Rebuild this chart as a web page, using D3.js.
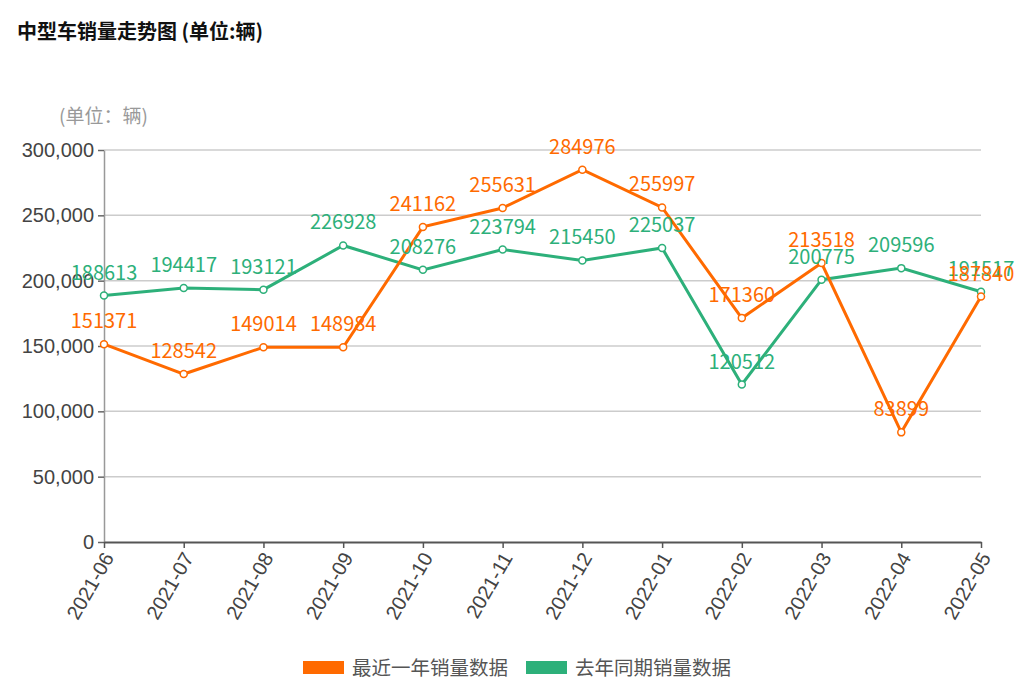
<!DOCTYPE html>
<html>
<head>
<meta charset="utf-8">
<script src="https://cdn.jsdelivr.net/npm/d3@7"></script>
<style>
  body { margin: 0; background: #fff; }
  svg { font-family: "Microsoft YaHei", "Noto Sans CJK SC", sans-serif; }
</style>
</head>
<body>
<div id="chart"></div>
<script>
var months = ["2021-06","2021-07","2021-08","2021-09","2021-10","2021-11","2021-12","2022-01","2022-02","2022-03","2022-04","2022-05"];
var recent = [151371,128542,149014,148984,241162,255631,284976,255997,171360,213518,83899,187840];
var lastYear = [188613,194417,193121,226928,208276,223794,215450,225037,120512,200775,209596,191517];
var yTicks = [0,50000,100000,150000,200000,250000,300000];
var seriesNames = ["最近一年销量数据","去年同期销量数据"];
var colors = ["#ff6a00","#2db07a"];

var width = 1028, height = 690;
var margin = {left: 104, right: 47, top: 150, bottom: 148};

var svg = d3.select("#chart").append("svg")
  .attr("width", width)
  .attr("height", height);

// title
svg.append("text")
  .attr("x", 17).attr("y", 39)
  .attr("font-size", 20).attr("font-weight", "bold").attr("fill", "#111")
  .text("中型车销量走势图 (单位:辆)");

var x = d3.scalePoint()
  .domain(months)
  .range([margin.left, width - margin.right]);

var y = d3.scaleLinear()
  .domain([0, 300000])
  .range([height - margin.bottom, margin.top]);

// grid
svg.append("g").selectAll("line")
  .data(yTicks.slice(1))
  .enter().append("line")
  .attr("x1", margin.left).attr("x2", width - margin.right)
  .attr("y1", function(d){ return y(d); }).attr("y2", function(d){ return y(d); })
  .attr("stroke", "#ccc").attr("stroke-width", 1.5);

// y axis
var yAxis = svg.append("g")
  .attr("transform", "translate(" + margin.left + ",0)")
  .call(d3.axisLeft(y).tickValues(yTicks).tickFormat(d3.format(",")).tickSize(6).tickSizeOuter(0));
yAxis.select(".domain").attr("stroke", "#999").attr("stroke-width", 1.5);
yAxis.selectAll(".tick line").attr("stroke", "#666").attr("stroke-width", 1.5);
yAxis.selectAll("text").attr("font-size", 20).attr("fill", "#444").attr("font-family", "inherit").attr("x", -10);

// unit label
svg.append("text")
  .attr("x", 59).attr("y", 123)
  .attr("font-size", 19).attr("fill", "#999")
  .text("(单位：辆)");

// x axis
var xAxis = svg.append("g")
  .attr("transform", "translate(0," + y(0) + ")")
  .call(d3.axisBottom(x).tickSize(6).tickSizeOuter(0));
xAxis.select(".domain").attr("stroke", "#555").attr("stroke-width", 2);
xAxis.selectAll(".tick line").attr("stroke", "#555").attr("stroke-width", 1.5);
xAxis.selectAll("text")
  .attr("font-size", 20).attr("fill", "#444").attr("font-family", "inherit")
  .attr("text-anchor", "end")
  .attr("dy", "0.35em")
  .attr("transform", "translate(4,12) rotate(-60)")
  .attr("x", 0).attr("y", 0);

var line = d3.line()
  .x(function(d, i){ return x(months[i]); })
  .y(function(d){ return y(d); });

[lastYear, recent].forEach(function(series, k) {
  var c = k == 0 ? colors[1] : colors[0];
  var g = svg.append("g");
  g.append("path")
    .datum(series)
    .attr("d", line)
    .attr("fill", "none")
    .attr("stroke", c)
    .attr("stroke-width", 3);
  g.selectAll("circle")
    .data(series)
    .enter().append("circle")
    .attr("cx", function(d, i){ return x(months[i]); })
    .attr("cy", function(d){ return y(d); })
    .attr("r", 3.5)
    .attr("fill", "#fff")
    .attr("stroke", c)
    .attr("stroke-width", 1.5);
});

// value labels
[lastYear, recent].forEach(function(series, k) {
  var c = k == 0 ? colors[1] : colors[0];
  svg.append("g").selectAll("text")
    .data(series)
    .enter().append("text")
    .attr("x", function(d, i){ return x(months[i]); })
    .attr("y", function(d){ return y(d) - 16; })
    .attr("text-anchor", "middle")
    .attr("font-size", 20)
    .attr("fill", c)
    .text(function(d){ return d; });
});

// legend
var legend = svg.append("g").attr("transform", "translate(303,661)");
var lx = [0, 223];
seriesNames.forEach(function(name, i) {
  legend.append("rect")
    .attr("x", lx[i]).attr("y", 0)
    .attr("width", 41).attr("height", 13)
    .attr("fill", colors[i]);
  legend.append("text")
    .attr("x", lx[i] + 49).attr("y", 14)
    .attr("font-size", 19.5).attr("fill", "#555")
    .text(name);
});
</script>
</body>
</html>
